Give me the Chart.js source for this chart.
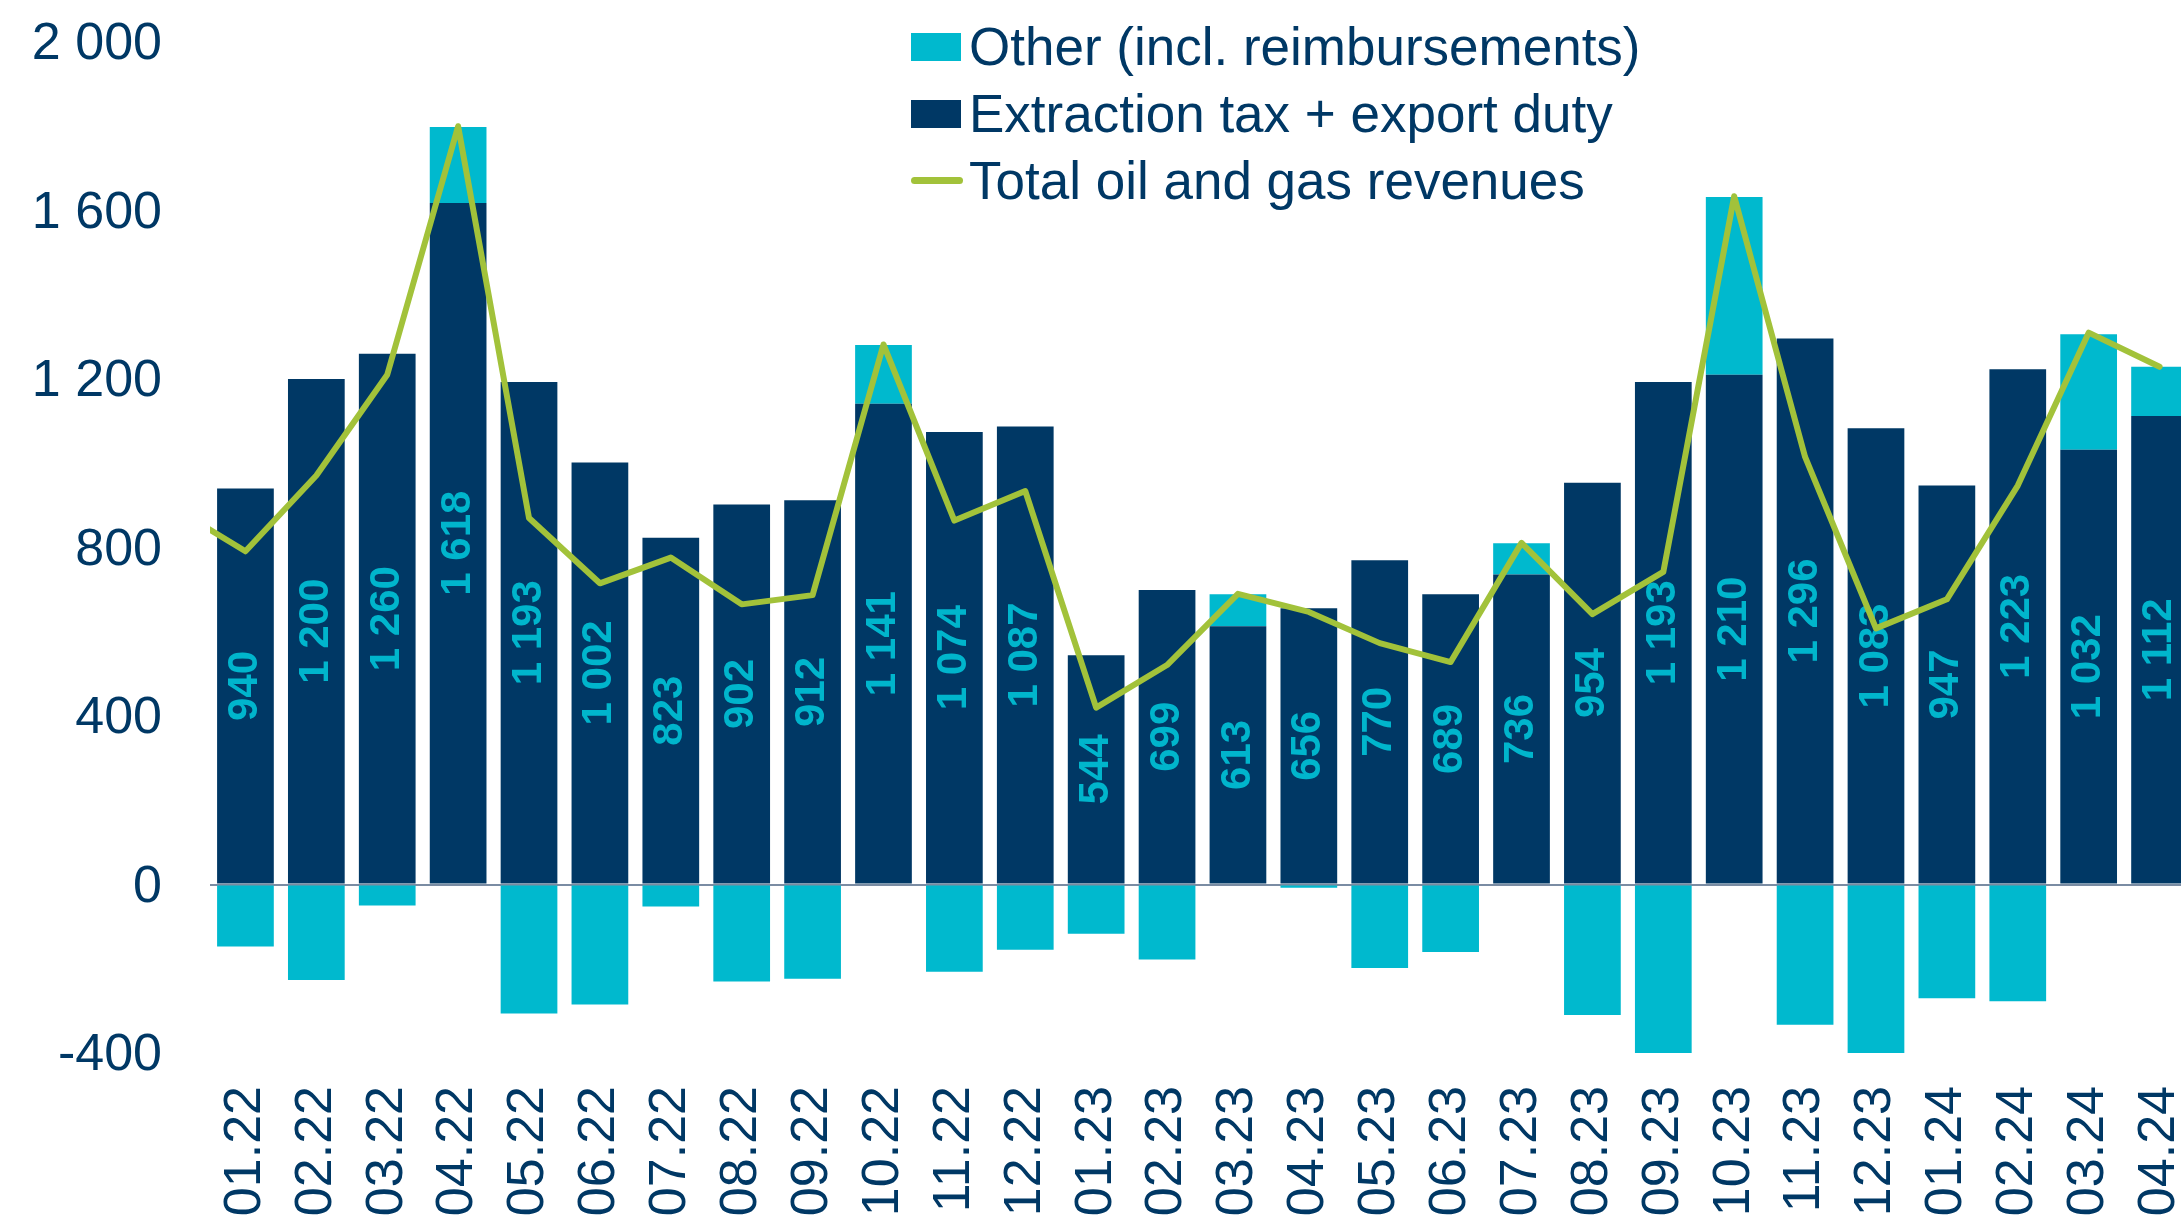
<!DOCTYPE html>
<html>
<head>
<meta charset="utf-8">
<script src="https://cdn.jsdelivr.net/npm/chart.js@4.4.1/dist/chart.umd.min.js"></script>
<style>
  html, body { margin: 0; padding: 0; background: #fff; overflow: hidden; }
  #wrap { position: relative; width: 2195px; height: 1219px; }
  #legend { position: absolute; left: 911px; top: 13px; font-family: "Liberation Sans", Arial, sans-serif; font-size: 53px; color: #003865; }
  .row { display: flex; align-items: center; height: 67px; line-height: 67px; white-space: nowrap; }
  .sw { width: 50px; height: 28px; margin-right: 8px; }
  .ln { width: 52px; height: 7px; border-radius: 4px; margin-right: 6px; }
</style>
</head>
<body>
<div id="wrap">
  <canvas id="revChart"></canvas>
  <div id="legend"></div>
</div>
<script>
// months; 12.21 only feeds the line segment that enters from the left edge
const months = ['12.21',
  '01.22','02.22','03.22','04.22','05.22','06.22','07.22','08.22','09.22','10.22','11.22','12.22',
  '01.23','02.23','03.23','04.23','05.23','06.23','07.23','08.23','09.23','10.23','11.23','12.23',
  '01.24','02.24','03.24','04.24'];

const extraction = [null,
  940, 1200, 1260, 1618, 1193, 1002, 823, 902, 912, 1141, 1074, 1087,
  544, 699, 613, 656, 770, 689, 736, 954, 1193, 1210, 1296, 1083,
  947, 1223, 1032, 1112];

const other = [null,
  -147, -227, -50, 180, -306, -285, -52, -230, -224, 140, -207, -155,
  -117, -178, 76, -8, -198, -160, 74, -310, -450, 422, -333, -475,
  -270, -277, 274, 117];

const total = [893,
  791, 971, 1210, 1800, 870, 715, 776, 665, 687, 1282, 864, 934,
  420, 521, 690, 647, 573, 528, 811, 642, 742, 1634, 1015, 608,
  677, 947, 1310, 1229];

const yTicks = [-400, 0, 400, 800, 1200, 1600, 2000];

const navy = '#003865';
const cyan = '#00B9CE';
const green = '#A2C23A';
const font = '"Liberation Sans", Arial, sans-serif';

const fmt = v => String(v).replace(/\B(?=(\d{3})+(?!\d))/g, ' ');

// legend
const legendItems = [
  { text: 'Other (incl. reimbursements)', color: cyan, kind: 'sw' },
  { text: 'Extraction tax + export duty', color: navy, kind: 'sw' },
  { text: 'Total oil and gas revenues', color: green, kind: 'ln' }
];
const legend = document.getElementById('legend');
legendItems.forEach(it => {
  const row = document.createElement('div');
  row.className = 'row';
  const mark = document.createElement('span');
  mark.className = it.kind;
  mark.style.background = it.color;
  row.appendChild(mark);
  row.appendChild(document.createTextNode(it.text));
  legend.appendChild(row);
});

// vertical value labels inside the dark bars
const barLabels = {
  id: 'barLabels',
  afterDatasetDraw(chart, args) {
    if (args.index !== 0) return;
    const c = chart.ctx;
    c.save();
    c.font = 'bold 42px ' + font;
    c.fillStyle = '#00B5CC';
    c.textAlign = 'center';
    c.textBaseline = 'middle';
    args.meta.data.forEach((bar, i) => {
      const v = extraction[i];
      if (v == null) return;
      c.save();
      c.translate(bar.x, (bar.y + bar.base) / 2);
      c.rotate(-Math.PI / 2);
      c.fillText(fmt(v), 0, 0);
      c.restore();
    });
    c.restore();
  }
};

const ctx = document.getElementById('revChart').getContext('2d');
new Chart(ctx, {
  type: 'bar',
  data: {
    labels: months,
    datasets: [
      {
        label: 'Extraction tax + export duty',
        data: extraction,
        backgroundColor: navy,
        stack: 'rev',
        order: 1,
        clip: 0
      },
      {
        label: 'Other (incl. reimbursements)',
        data: other,
        backgroundColor: cyan,
        stack: 'rev',
        order: 1,
        clip: 0
      },
      {
        type: 'line',
        label: 'Total oil and gas revenues',
        data: total,
        borderColor: green,
        borderWidth: 6,
        borderJoinStyle: 'round',
        borderCapStyle: 'round',
        pointRadius: 0,
        tension: 0,
        stack: 'total',
        order: 0
      }
    ]
  },
  options: {
    responsive: true,
    maintainAspectRatio: false,
    animation: false,
    devicePixelRatio: 1,
    layout: { padding: { top: 42, left: 0, right: 0, bottom: 0 } },
    datasets: {
      bar: { barPercentage: 0.8, categoryPercentage: 1.0, borderWidth: 0 }
    },
    scales: {
      x: {
        min: '01.22',
        stacked: true,
        grid: { display: false, drawTicks: false },
        border: { display: false },
        ticks: {
          autoSkip: false,
          minRotation: 90,
          maxRotation: 90,
          padding: 33,
          color: navy,
          font: { family: font, size: 52 }
        },
        afterFit: s => { s.height = 166; s.paddingLeft = 0; s.paddingRight = 0; }
      },
      y: {
        stacked: true,
        min: yTicks[0],
        max: yTicks[yTicks.length - 1],
        afterBuildTicks: s => { s.ticks = yTicks.map(v => ({ value: v })); },
        grid: {
          drawTicks: false,
          color: c => c.tick && c.tick.value === 0 ? '#7A8CA3' : 'transparent',
          lineWidth: 2
        },
        border: { display: false },
        ticks: {
          padding: 48,
          labelOffset: 3,
          color: navy,
          font: { family: font, size: 52 },
          callback: v => fmt(v)
        },
        afterFit: s => { s.width = 210; s.paddingTop = 0; s.paddingBottom = 0; }
      }
    },
    plugins: {
      legend: { display: false },
      tooltip: { enabled: false }
    }
  },
  plugins: [barLabels]
});
</script>
</body>
</html>
